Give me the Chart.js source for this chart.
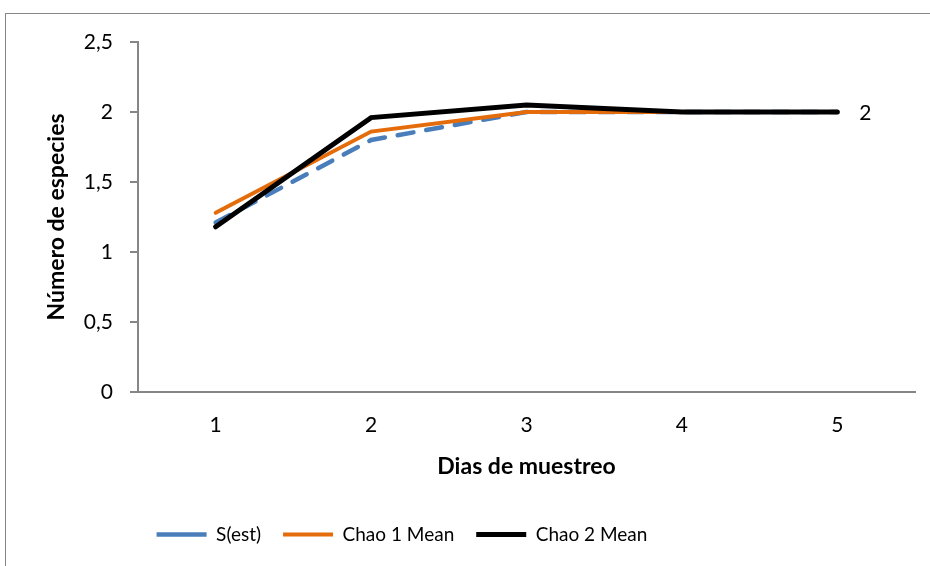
<!DOCTYPE html>
<html>
<head>
<meta charset="utf-8">
<script src="https://cdn.jsdelivr.net/npm/chart.js@4"></script>
<style>
  html, body { margin: 0; padding: 0; background: #fff; }
  #wrap { position: relative; width: 930px; height: 566px; }
</style>
</head>
<body>
<div id="wrap"><canvas id="chart" width="930" height="566"></canvas></div>
<script>
// ---- Data ----
const dias      = ['1', '2', '3', '4', '5'];
const sEst      = [1.21, 1.80, 2.00, 2.00, 2.00];
const chao1Mean = [1.28, 1.86, 2.00, 2.00, 2.00];
const chao2Mean = [1.18, 1.96, 2.05, 2.00, 2.00];
const yTicks    = [0, 0.5, 1, 1.5, 2, 2.5];

const FONT = 'Lato, "Open Sans", sans-serif';
const AXIS_GREY = '#868686';

// ---- Outer frame, legend placement, end label ----
const framePlugin = {
  id: 'frame',
  beforeDraw(chart) {
    const ctx = chart.ctx;
    ctx.save();
    ctx.strokeStyle = AXIS_GREY;
    ctx.lineWidth = 1;
    ctx.strokeRect(5.5, 13.5, 1000, 1000);
    ctx.restore();
  },
  afterLayout(chart) {
    const lg = chart.legend;
    const h = lg.bottom - lg.top;
    lg.left = 402 - 400;
    lg.right = 402 + 400;
    lg.top = 503;
    lg.bottom = 503 + h;
  },
  afterDatasetsDraw(chart) {
    const meta = chart.getDatasetMeta(2);
    const last = meta.data[meta.data.length - 1];
    const ctx = chart.ctx;
    ctx.save();
    ctx.fillStyle = '#000';
    ctx.font = '21px ' + FONT;
    ctx.textAlign = 'center';
    ctx.textBaseline = 'middle';
    ctx.fillText(String(chao2Mean[chao2Mean.length - 1]).replace('.', ','), last.x + 28, last.y + 1);
    ctx.restore();
  }
};

new Chart(document.getElementById('chart'), {
  type: 'line',
  data: {
    labels: dias,
    datasets: [
      {
        label: 'S(est)', data: sEst,
        borderColor: '#4a7ebb', backgroundColor: '#4a7ebb',
        borderWidth: 4.5, borderDash: [16, 13], borderCapStyle: 'round',
        pointRadius: 0, tension: 0, order: 3
      },
      {
        label: 'Chao 1 Mean', data: chao1Mean,
        borderColor: '#e46c0a', backgroundColor: '#e46c0a',
        borderWidth: 4, borderCapStyle: 'round',
        pointRadius: 0, tension: 0, order: 2
      },
      {
        label: 'Chao 2 Mean', data: chao2Mean,
        borderColor: '#000000', backgroundColor: '#000000',
        borderWidth: 5, borderCapStyle: 'round',
        pointRadius: 0, tension: 0, order: 1
      }
    ]
  },
  options: {
    responsive: false,
    animation: false,
    devicePixelRatio: 1,
    layout: { padding: { left: 43, top: 42, right: 15, bottom: 35 } },
    plugins: {
      tooltip: { enabled: false },
      legend: {
        position: 'bottom',
        labels: {
          color: '#000',
          font: { family: FONT, size: 19 },
          usePointStyle: true,
          pointStyle: 'line',
          pointStyleWidth: 50,
          padding: 22,
          sort: (a, b) => a.datasetIndex - b.datasetIndex
        }
      }
    },
    scales: {
      x: {
        offset: true,
        grid: { display: false, drawTicks: false },
        border: { display: true, color: AXIS_GREY, width: 2 },
        ticks: { color: '#000', font: { family: FONT, size: 21 }, padding: 21 },
        title: {
          display: true, text: 'Dias de muestreo', color: '#000',
          font: { family: FONT, size: 23, weight: 'bold' }, padding: 0
        },
        afterFit(scale) { scale.height = 88; }
      },
      y: {
        min: 0, max: 2.5,
        afterBuildTicks(scale) { scale.ticks = yTicks.map(v => ({ value: v })); },
        grid: { drawOnChartArea: false, color: AXIS_GREY, tickLength: 8, lineWidth: 2 },
        border: { display: true, color: AXIS_GREY, width: 2 },
        ticks: {
          color: '#000', font: { family: FONT, size: 21 }, padding: 17,
          callback: v => String(v).replace('.', ',')
        },
        title: {
          display: true, text: 'Número de especies', color: '#000',
          font: { family: FONT, size: 23, weight: 'bold' }, padding: 0
        },
        afterFit(scale) { scale.width = 95; }
      }
    }
  },
  plugins: [framePlugin]
});
</script>
</body>
</html>
